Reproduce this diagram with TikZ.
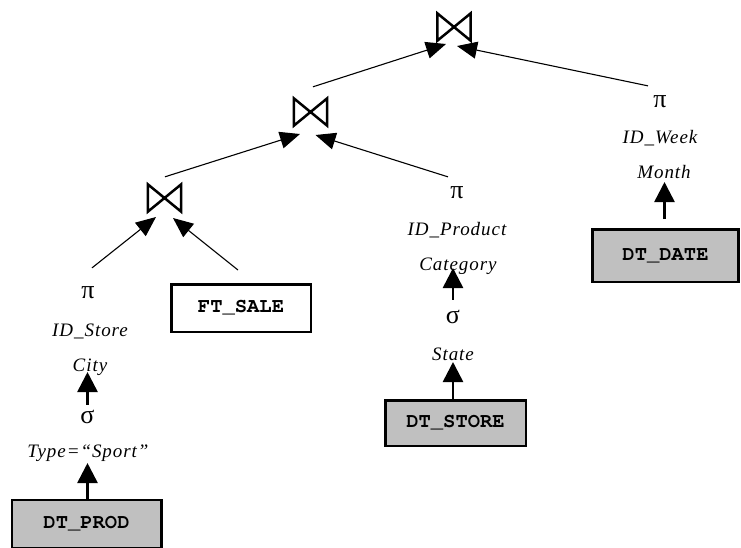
\documentclass[tikz,border=0pt]{standalone}
\usepackage{fontspec}
\setmainfont{Liberation Serif}
\newfontfamily\lblfont{Liberation Serif}[LetterSpace=5]
\newfontfamily\boxfont{TeX Gyre Cursor}
\usetikzlibrary{arrows.meta,calc}
\definecolor{boxgray}{RGB}{192,192,192}
\begin{document}
\begin{tikzpicture}[x=1pt,y=-1pt,
  lbl/.style={inner sep=0pt, anchor=base, font=\fontsize{19}{19}\lblfont\itshape},
  op/.style={inner sep=0pt, anchor=base, font=\fontsize{26}{26}\selectfont},
  tbl/.style={draw, line width=2.5pt, fill=boxgray, inner sep=0pt, font=\fontsize{20.5}{20.5}\boxfont\bfseries},
  joinnode/.style={inner sep=0pt, minimum width=33pt, minimum height=27pt},
  bt/.style={line width=2.5pt},
  jarrow/.style={line width=1.1pt, -{Triangle[length=20pt,width=17pt]}},
  varrow/.style={line width=2.6pt, -{Triangle[length=20pt,width=20pt]}},
]
\useasboundingbox (0,0) rectangle (741,547);

% joins
\node[joinnode] (j1) at (454,27) {};
\node[joinnode] (j2) at (310.5,112) {};
\node[joinnode] (j3) at (164.5,198) {};
\foreach \j in {j1,j2,j3}
  \draw[bt] (\j.north west) -- (\j.south east) -- (\j.north east) -- (\j.south west) -- cycle;

% tables
\node[tbl, minimum width=149.5pt, minimum height=48pt] (dtprod) at (86.5,524) {DT\_PROD};
\node[tbl, fill=white, minimum width=139.5pt, minimum height=47.5pt] (ftsale) at (241,308) {FT\_SALE};
\node[tbl, minimum width=140.5pt, minimum height=45.5pt] (dtstore) at (455.5,423) {DT\_STORE};
\node[tbl, minimum width=146pt, minimum height=52.5pt] (dtdate) at (665.5,255.5) {DT\_DATE};

% left column
\node[op]  (pi1)    at (88,298) {π};
\node[lbl] (idstore) at (90,336) {ID\_Store};
\node[lbl] (city)   at (90,371) {City};
\node[op]  (sig1)   at (87.5,423) {σ};
\node[lbl] (cond1)  at (88,457) {Type=“Sport”};

% middle column
\node[op]  (pi2)    at (457,198) {π};
\node[lbl] (idprod) at (457,235) {ID\_Product};
\node[lbl] (category) at (458,270) {Category};
\node[op]  (sig2)   at (453,323) {σ};
\node[lbl] (state)  at (453,360) {State};

% right column
\node[op]  (pi3)    at (660,107) {π};
\node[lbl] (idweek) at (660,143) {ID\_Week};
\node[lbl] (month)  at (664,178) {Month};

% vertical arrows
\draw[varrow] (sig1 |- dtprod.north) -- ($(sig1 |- cond1.base)+(0,6)$);
\draw[varrow] ($(sig1.north)+(0,-5)$) -- ($(sig1 |- city.base)+(0,1)$);
\draw[varrow] (sig2 |- dtstore.north) -- ($(sig2 |- state.base)+(0,2)$);
\draw[varrow] ($(sig2.north)+(0,-10)$) -- ($(sig2 |- category.base)+(0,-2)$);
\draw[varrow] ($(month.base |- dtdate.north)+(0.5,-9)$) -- ($(month.base)+(0.5,4)$);

% join arrows
\draw[jarrow] ($(pi1.north)+(4,-18)$) -- ($(j3.center)+(-8.5,19)$);
\draw[jarrow] ($(ftsale.north)+(-3,-13)$) -- ($(j3.center)+(8.5,20)$);
\draw[jarrow] ($(j3.north)+(0.5,-7.5)$) -- ($(j2.center)+(-10.5,22)$);
\draw[jarrow] ($(pi2.north)+(-9,-9)$) -- ($(j2.center)+(5,23)$);
\draw[jarrow] ($(j2.north)+(2.5,-11.5)$) -- ($(j1.center)+(-8,17)$);
\draw[jarrow] ($(pi3.north)+(-12,-9)$) -- ($(j1.center)+(3,19)$);
\end{tikzpicture}
\end{document}
